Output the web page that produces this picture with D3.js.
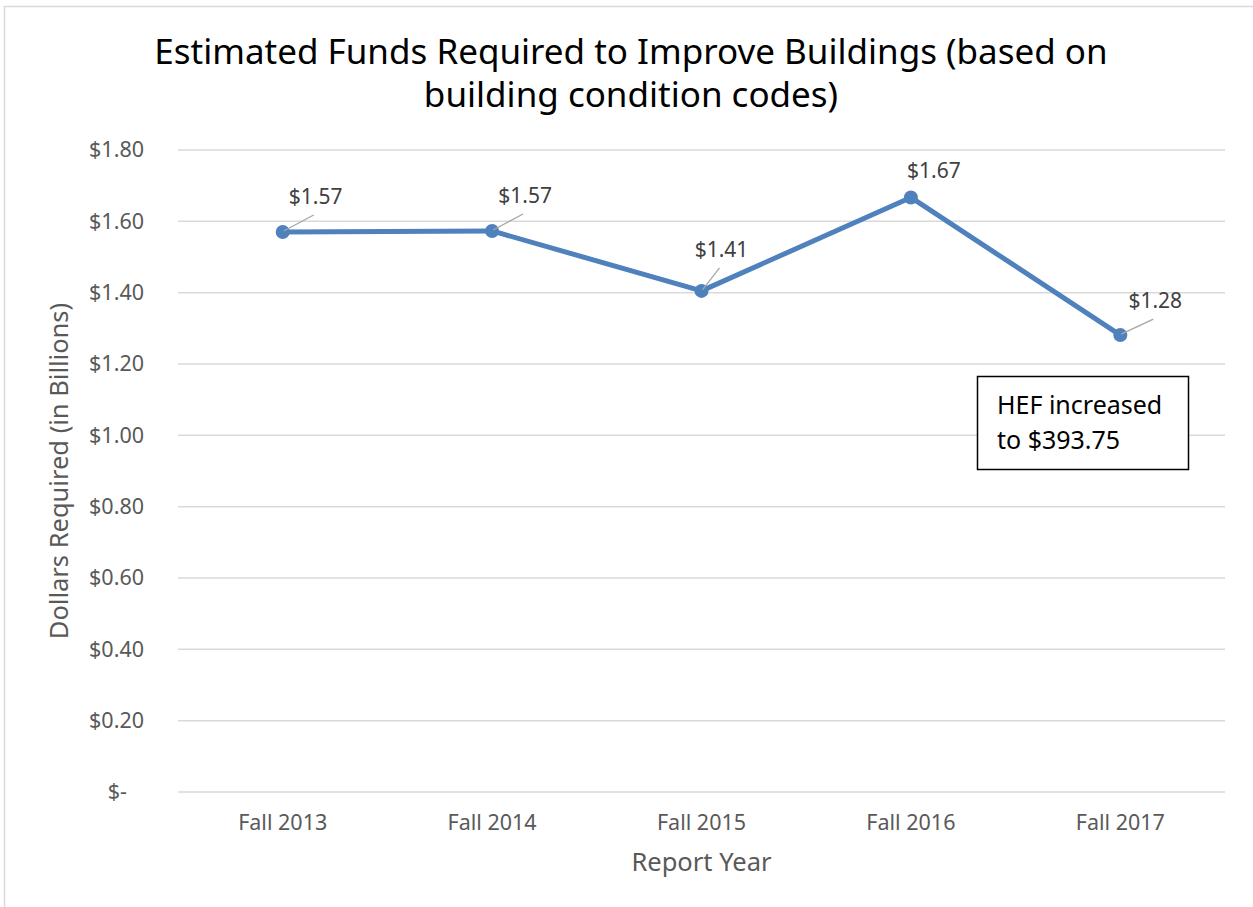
<!DOCTYPE html>
<html>
<head>
<meta charset="utf-8">
<script src="https://cdn.jsdelivr.net/npm/d3@7"></script>
<style>
  body { margin: 0; background: #fff; }
  svg { display: block; font-family: "Noto Sans", "Open Sans", sans-serif; }
</style>
</head>
<body>
<div id="chart"></div>
<script>
// data
const years = ["Fall 2013", "Fall 2014", "Fall 2015", "Fall 2016", "Fall 2017"];
const funds = [1.57, 1.573, 1.405, 1.667, 1.281];
const fundLabels = ["$1.57", "$1.57", "$1.41", "$1.67", "$1.28"];
const yTicks = [0, 0.2, 0.4, 0.6, 0.8, 1.0, 1.2, 1.4, 1.6, 1.8];
const noteLines = ["HEF increased", "to $393.75"];

// label placement relative to each point (dx, dy, leader line?)
const labelOffsets = [[33, -28, true], [33, -28, true], [20, -34, true], [23, -19, false], [35, -27, true]];

const W = 1253, H = 907;
const margin = {left: 178, right: 28, top: 150, bottom: 115};

let svg = d3.select("#chart").append("svg")
    .attr("width", W).attr("height", H);

// outer chart border
svg.append("rect")
    .attr("x", 4.5).attr("y", 6.5)
    .attr("width", W + 10).attr("height", H + 10)
    .attr("fill", "none").attr("stroke", "#d9d9d9").attr("stroke-width", 1.5);

let x = d3.scaleBand().domain(years).range([margin.left, W - margin.right]);
let y = d3.scaleLinear().domain([0, 1.8]).range([H - margin.bottom, margin.top]);

// gridlines
svg.append("g")
    .selectAll("line").data(yTicks).join("line")
    .attr("x1", margin.left).attr("x2", W - margin.right)
    .attr("y1", d => y(d)).attr("y2", d => y(d))
    .attr("stroke", "#d9d9d9").attr("stroke-width", 1.5);

// y axis labels
let yAxis = svg.append("g")
    .attr("transform", `translate(${margin.left - 31},0)`)
    .call(d3.axisLeft(y).tickValues(yTicks).tickSize(0)
        .tickFormat(d => d === 0 ? "$-" : "$" + d3.format(".2f")(d)));
yAxis.attr("font-family", null).attr("font-size", null);
yAxis.select(".domain").remove();
yAxis.selectAll("text")
    .attr("fill", "#595959").style("font-size", "21.5px")
    .attr("dx", d => d === 0 ? -17 : 0);

// x axis labels
let xAxis = svg.append("g")
    .attr("transform", `translate(0,${H - margin.bottom + 20})`)
    .call(d3.axisBottom(x).tickSize(0));
xAxis.attr("font-family", null).attr("font-size", null);
xAxis.select(".domain").remove();
xAxis.selectAll("text")
    .attr("fill", "#595959").style("font-size", "21.5px");

// line
let cx = d => x(d) + x.bandwidth() / 2;
svg.append("path")
    .datum(funds)
    .attr("d", d3.line().x((d, i) => cx(years[i])).y(d => y(d)))
    .attr("fill", "none").attr("stroke", "#4f81bd")
    .attr("stroke-width", 5).attr("stroke-linejoin", "round");

svg.append("g")
    .selectAll("circle").data(funds).join("circle")
    .attr("cx", (d, i) => cx(years[i])).attr("cy", d => y(d))
    .attr("r", 7).attr("fill", "#4f81bd");

// data labels with leader lines
funds.forEach((v, i) => {
    let px = cx(years[i]), py = y(v);
    let [dx, dy, leader] = labelOffsets[i];
    if (leader) {
        svg.append("line")
            .attr("x1", px + 1).attr("y1", py - 1)
            .attr("x2", px + dx - 2).attr("y2", py + dy + 11)
            .attr("stroke", "#a6a6a6").attr("stroke-width", 1.3);
    }
    svg.append("text")
        .attr("x", px + dx).attr("y", py + dy)
        .attr("text-anchor", "middle")
        .attr("fill", "#404040").style("font-size", "21px")
        .text(fundLabels[i]);
});

// annotation box
svg.append("rect")
    .attr("x", 977.5).attr("y", 376.5).attr("width", 211).attr("height", 93)
    .attr("fill", "#fff").attr("stroke", "#000").attr("stroke-width", 1.5);
svg.append("g").selectAll("text").data(noteLines).join("text")
    .attr("x", 997).attr("y", (d, i) => 414 + i * 35)
    .attr("fill", "#000").style("font-size", "25px")
    .text(d => d);

// title
svg.append("g").selectAll("text")
    .data(["Estimated Funds Required to Improve Buildings (based on", "building condition codes)"])
    .join("text")
    .attr("x", 631).attr("y", (d, i) => 64 + i * 43)
    .attr("text-anchor", "middle")
    .attr("fill", "#000").style("font-size", "35px")
    .text(d => d);

// axis titles
svg.append("text")
    .attr("x", (margin.left + W - margin.right) / 2).attr("y", 871)
    .attr("text-anchor", "middle")
    .attr("fill", "#595959").style("font-size", "25.5px")
    .text("Report Year");

svg.append("text")
    .attr("transform", `translate(68,${(margin.top + H - margin.bottom) / 2}) rotate(-90)`)
    .attr("text-anchor", "middle")
    .attr("fill", "#595959").style("font-size", "25.5px")
    .text("Dollars Required (in Billions)");
</script>
</body>
</html>
